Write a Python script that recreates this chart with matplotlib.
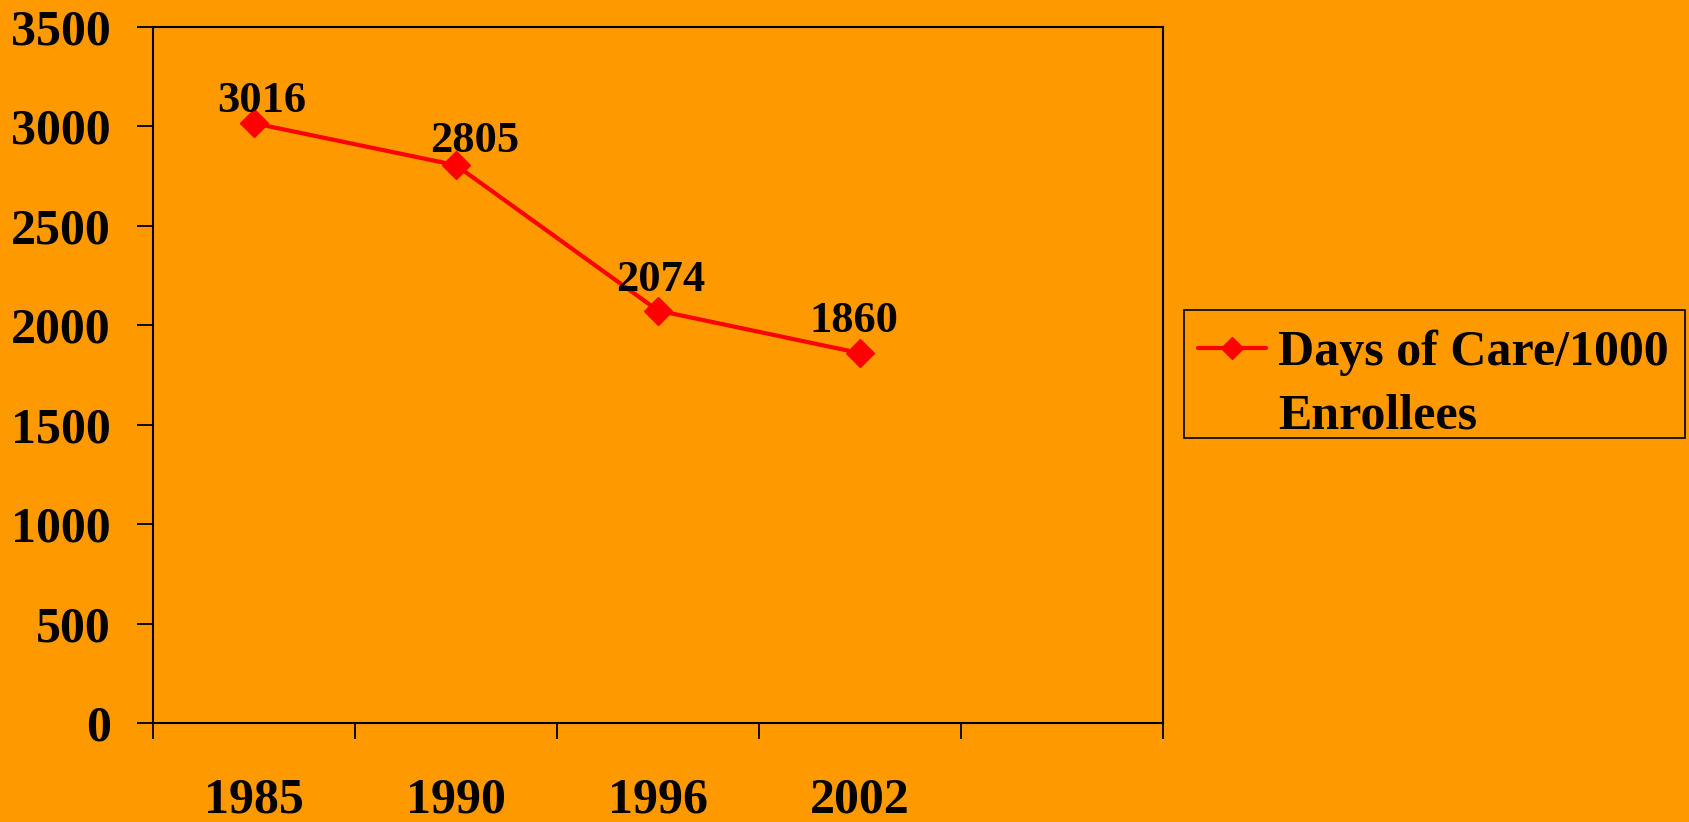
import matplotlib
matplotlib.use("Agg")
import matplotlib.pyplot as plt
from matplotlib.lines import Line2D
from matplotlib.patches import Rectangle
import numpy as np

categories = ["1985", "1990", "1996", "2002"]
values = [3016, 2805, 2074, 1860]
series_label_lines = ["Days of Care/1000", "Enrollees"]
y_ticks = [0, 500, 1000, 1500, 2000, 2500, 3000, 3500]
# data-label offsets (points) relative to each marker, as placed in the reference
label_dx = [5.8, 13.7, 2.2, -4.3]
label_dy = [7.9, 9.4, 14.4, 15.1]

BG = "#FF9900"
RED = "#FF0000"
FONT = "Liberation Serif"
FS = 36
FS_LBL = 32
W, H = 1690, 822

plt.rcParams["font.family"] = [FONT, "DejaVu Serif"]
plt.rcParams["font.weight"] = "bold"

fig = plt.figure(figsize=(W/100, H/100), dpi=100, facecolor=BG)
ax = fig.add_axes([153/W, 1-723/H, (1163-153)/W, (723-27)/H])
ax.set_facecolor(BG)

n_slots = 5
x = np.arange(len(categories)) + 0.5
line, = ax.plot(x, values, color=RED, lw=3, marker="D", markersize=14,
                markeredgecolor=RED, markerfacecolor=RED,
                solid_joinstyle="round", solid_capstyle="round")

for xi, v, dx, dy in zip(x, values, label_dx, label_dy):
    ax.annotate(str(v), (xi, v), xytext=(dx, dy), textcoords="offset points",
                ha="center", va="baseline", fontsize=FS_LBL, fontweight="bold",
                fontfamily=FONT, color="black")

ax.set_xlim(0, n_slots)
ax.set_ylim(0, 3500)
ax.set_yticks(y_ticks)
ax.set_yticklabels([str(t) for t in y_ticks], fontsize=FS, fontweight="bold")
ax.set_xticks(x)
ax.set_xticklabels(categories, fontsize=FS, fontweight="bold")
ax.set_xticks(np.arange(n_slots + 1), minor=True)
ax.tick_params(axis="x", which="major", length=0, pad=39)
ax.tick_params(axis="x", which="minor", length=11.5, width=1.3, direction="out")
ax.tick_params(axis="y", which="major", length=11.5, width=1.3, direction="out", pad=19)
for s in ax.spines.values():
    s.set_linewidth(1.5)
    s.set_color("black")

h1 = Line2D([], [], color=RED, lw=3, marker="D", markersize=11.5,
            markeredgecolor=RED, markerfacecolor=RED, solid_capstyle="round")
h2 = Line2D([], [], color="none", lw=0, marker=None)
leg = ax.legend([h1, h2], series_label_lines, loc="upper left",
                bbox_to_anchor=(1198/W, 1-330/H),
                bbox_transform=fig.transFigure, frameon=False,
                prop={"family": FONT, "weight": "bold", "size": FS},
                handlelength=1.36, handletextpad=0.24, borderpad=0,
                labelspacing=0.34, borderaxespad=0)
# legend frame
fig.patches.append(Rectangle((1184/W, 1-438/H), (1685-1184)/W, (438-310)/H,
                             transform=fig.transFigure, fill=False,
                             edgecolor="black", linewidth=1.2))

fig.savefig("out.png", dpi=100, facecolor=BG)
